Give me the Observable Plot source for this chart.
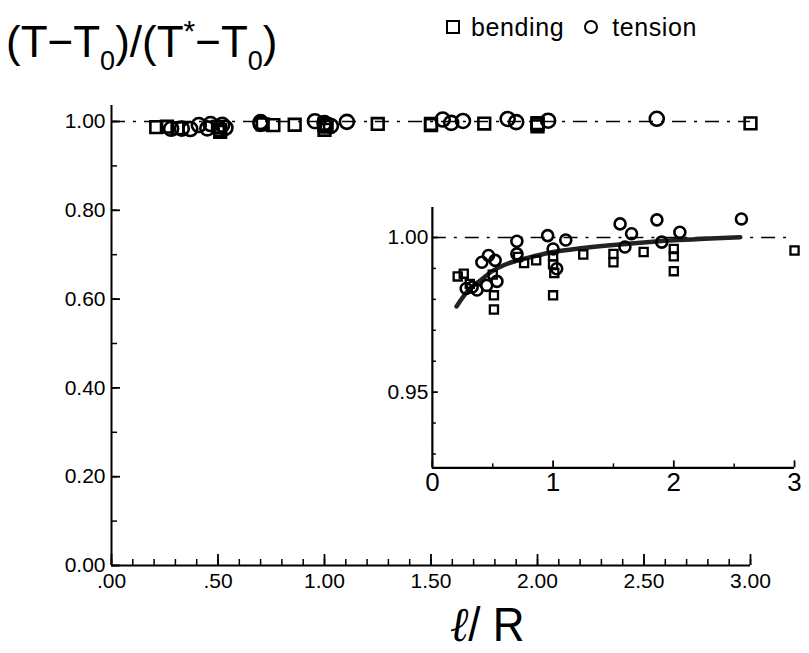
<!DOCTYPE html>
<html>
<head>
<meta charset="utf-8">
<script src="https://cdn.jsdelivr.net/npm/d3@7"></script>
<script src="https://cdn.jsdelivr.net/npm/@observablehq/plot@0.6"></script>
<style>
  html, body { margin: 0; padding: 0; background: #fff; }
  #wrap { position: relative; width: 809px; height: 653px; background: #fff; overflow: hidden;
          font-family: "Liberation Sans Narrow", "Liberation Sans", "DejaVu Sans Condensed", sans-serif; color: #000; }
  #main, #inset, #title, #legend, #xlabel { position: absolute; }
  #main { left: 0; top: 0; }
  #inset { left: 372px; top: 202px; }
  #title { left: 6px; top: 16px; font-size: 44px; line-height: 1; white-space: nowrap; }
  #title sub { font-size: 27px; vertical-align: -13px; }
  #title sup { font-size: 30px; vertical-align: 16px; }
  #legend { left: 446px; top: 13px; font-size: 25px; white-space: nowrap; letter-spacing: 0.6px; }
  #legend .sq { display: inline-block; width: 10px; height: 10px; border: 2px solid #000; margin-right: 11px; vertical-align: 2px; }
  #legend .ci { display: inline-block; width: 10px; height: 10px; border: 2px solid #000; border-radius: 50%; margin-left: 20px; margin-right: 14px; vertical-align: 2px; }
  #xlabel { left: 450px; top: 600px; font-size: 44px; line-height: 1; white-space: nowrap; font-family: "Liberation Sans", sans-serif; transform: scaleY(1.1); transform-origin: top left; }
  #xlabel i { font-family: "DejaVu Serif", serif; font-style: italic; }
</style>
</head>
<body>
<div id="wrap">
  <div id="main"></div>
  <div id="inset"></div>
  <div id="title">(T−T<sub>0</sub>)/(T<sup>*</sup>−T<sub>0</sub>)</div>
  <div id="legend"><span class="sq"></span>bending<span class="ci"></span>tension</div>
  <div id="xlabel"><i>ℓ</i>/ R</div>
</div>
<script>
// ---- data ----
const bendingX = [0.21, 0.26, 0.31, 0.50, 0.51, 0.51, 0.71, 0.76, 0.86, 1.00, 1.00, 1.01, 1.00, 1.25, 1.50, 1.50, 1.75, 2.00, 2.00, 2.00, 3.00];
const bendingY = [0.9874, 0.9883, 0.9850, 0.9880, 0.9813, 0.9767, 0.9937, 0.9917, 0.9926, 0.9939, 0.9913, 0.9885, 0.9813, 0.9945, 0.9947, 0.9920, 0.9953, 0.9963, 0.9939, 0.9891, 0.9958];
const tensionX = [0.28, 0.33, 0.37, 0.41, 0.45, 0.465, 0.52, 0.535, 0.70, 0.70, 0.955, 1.00, 1.03, 1.105, 1.555, 1.595, 1.65, 1.86, 1.90, 2.05, 2.56];
const tensionY = [0.9835, 0.9840, 0.9830, 0.9920, 0.9845, 0.9942, 0.9926, 0.9858, 0.9988, 0.9947, 1.0006, 0.9963, 0.9899, 0.9992, 1.0044, 0.9969, 1.0012, 1.0057, 0.9985, 1.0017, 1.0060];
const fitX = [0.20, 0.30, 0.40, 0.50, 0.60, 0.70, 0.85, 1.00, 1.25, 1.50, 1.75, 2.00, 2.25, 2.55];
const fitY = [0.9777, 0.9830, 0.9862, 0.9892, 0.9912, 0.9925, 0.9940, 0.9953, 0.9966, 0.9976, 0.9984, 0.9991, 0.9996, 1.0001];

const mainXTicks = [0, 0.5, 1, 1.5, 2, 2.5, 3];
const mainXTickLabels = [".00", ".50", "1.00", "1.50", "2.00", "2.50", "3.00"];
const mainXMinor = d3.range(0, 31).map(i => i / 10);
const mainYTicks = [0, 0.2, 0.4, 0.6, 0.8, 1.0];
const mainYTickLabels = ["0.00", "0.20", "0.40", "0.60", "0.80", "1.00"];
const mainYMinor = d3.range(0, 11).map(i => i / 10);

const insetXTicks = [0, 1, 2, 3];
const insetXTickLabels = ["0", "1", "2", "3"];
const insetXMinor = [0.5, 1.5, 2.5];
const insetYTicks = [0.95, 1.00];
const insetYTickLabels = ["0.95", "1.00"];
const insetYMinor = [0.93, 0.94, 0.96, 0.97, 0.98, 0.99];

const bending = bendingX.map((x, i) => ({x, y: bendingY[i]}));
const tension = tensionX.map((x, i) => ({x, y: tensionY[i]}));
const fit = fitX.map((x, i) => ({x, y: fitY[i]}));

const FONT = '"Liberation Sans Narrow", "Liberation Sans", "DejaVu Sans Condensed", sans-serif';
const dash = "14,8,3,8";

// ---- main chart ----
const mW = 809, mH = 653, mL = 111, mR = 59, mT = 105, mB = 88;
const mFrameW = mW - mL - mR, mFrameH = mH - mT - mB;
const main = Plot.plot({
  width: mW, height: mH,
  marginLeft: mL, marginRight: mR, marginTop: mT, marginBottom: mB,
  x: {domain: [0, 3]},
  y: {domain: [0, 1.036]},
  style: {fontFamily: FONT, fontSize: "21px", background: "transparent", color: "#000"},
  marks: [
    Plot.ruleY([1], {stroke: "#000", strokeWidth: 1.7, strokeDasharray: dash}),
    Plot.ruleX([0], {stroke: "#000", strokeWidth: 2}),
    Plot.ruleY([0], {stroke: "#000", strokeWidth: 2}),
    Plot.tickX(mainXMinor, {x: d => d, insetTop: mFrameH - 6, stroke: "#000", strokeWidth: 1.5}),
    Plot.tickX(mainXTicks, {x: d => d, insetTop: mFrameH - 11, stroke: "#000", strokeWidth: 1.8}),
    Plot.tickY(mainYMinor, {y: d => d, insetRight: mFrameW - 6, stroke: "#000", strokeWidth: 1.5}),
    Plot.tickY(mainYTicks, {y: d => d, insetRight: mFrameW - 9, stroke: "#000", strokeWidth: 1.8}),
    Plot.axisX(mainXTicks, {tickSize: 0, tickPadding: 8, fontSize: 21, tickFormat: (d, i) => mainXTickLabels[i], label: null}),
    Plot.axisY(mainYTicks, {tickSize: 0, tickPadding: 6, fontSize: 21, tickFormat: (d, i) => mainYTickLabels[i], label: null}),
    Plot.dot(bending, {x: "x", y: "y", symbol: "square", r: 6.6, stroke: "#000", strokeWidth: 2.6, fill: "none"}),
    Plot.dot(tension, {x: "x", y: "y", symbol: "circle", r: 7, stroke: "#000", strokeWidth: 2.6, fill: "none"})
  ]
});
document.getElementById("main").appendChild(main);

// ---- inset chart ----
const iW = 438, iH = 306, iL = 60, iR = 15, iT = 5, iB = 40;
const iFrameW = iW - iL - iR, iFrameH = iH - iT - iB;
const inset = Plot.plot({
  width: iW, height: iH,
  marginLeft: iL, marginRight: iR, marginTop: iT, marginBottom: iB,
  x: {domain: [0, 3]},
  y: {domain: [0.9255, 1.0097]},
  style: {fontFamily: FONT, fontSize: "21px", background: "transparent", color: "#000", overflow: "visible"},
  marks: [
    Plot.ruleY([1], {stroke: "#000", strokeWidth: 1.7, strokeDasharray: dash}),
    Plot.ruleX([0], {stroke: "#000", strokeWidth: 2.2}),
    Plot.ruleY([0.9255], {stroke: "#000", strokeWidth: 2.2}),
    Plot.tickX(insetXMinor, {x: d => d, insetTop: iFrameH - 4, stroke: "#000", strokeWidth: 1.5}),
    Plot.tickX(insetXTicks, {x: d => d, insetTop: iFrameH - 7, stroke: "#000", strokeWidth: 1.8}),
    Plot.tickY(insetYMinor, {y: d => d, insetRight: iFrameW - 4, stroke: "#000", strokeWidth: 1.5}),
    Plot.tickY(insetYTicks, {y: d => d, insetRight: iFrameW - 6, stroke: "#000", strokeWidth: 1.8}),
    Plot.axisX(insetXTicks, {tickSize: 0, tickPadding: 5, fontSize: 26, tickFormat: (d, i) => insetXTickLabels[i], label: null}),
    Plot.axisY(insetYTicks, {tickSize: 0, tickPadding: 4, fontSize: 21, tickFormat: (d, i) => insetYTickLabels[i], label: null}),
    Plot.line(fit, {x: "x", y: "y", curve: "monotone-x", stroke: "#222", strokeWidth: 4.5}),
    Plot.dot(bending, {x: "x", y: "y", symbol: "square", r: 4.6, stroke: "#000", strokeWidth: 2.3, fill: "none"}),
    Plot.dot(tension, {x: "x", y: "y", symbol: "circle", r: 5.5, stroke: "#000", strokeWidth: 2.6, fill: "none"})
  ]
});
document.getElementById("inset").appendChild(inset);
</script>
</body>
</html>
